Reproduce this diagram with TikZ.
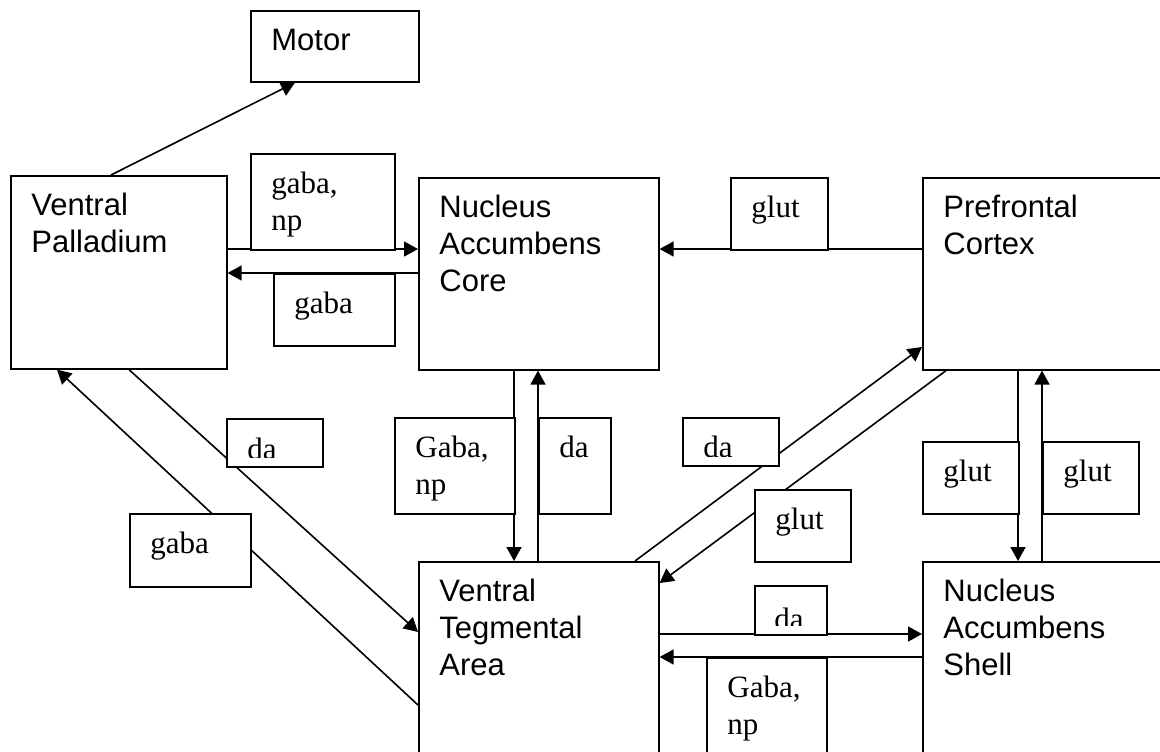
\documentclass[tikz,border=0pt]{standalone}
\usepackage{fontspec}
\setmainfont{Liberation Serif}
\newfontfamily\arial{Liberation Sans}
\usetikzlibrary{arrows.meta}

% lines of a label, baseline on the first line
\newcommand\stackedtext[1]{\begin{tabular}[t]{@{}l@{}}#1\end{tabular}}

\tikzset{
  area/.style={draw,fill=white,line width=0.8pt,inner sep=0pt,anchor=north west},
  tag/.style={draw,fill=white,line width=0.8pt,inner sep=0pt,anchor=north west},
  areatext/.style={anchor=base west,inner sep=0pt,
    font=\arial\fontsize{15.5}{18.5}\selectfont},
  tagtext/.style={anchor=base west,inner sep=0pt,
    font=\fontsize{15.5}{18.5}\selectfont},
  link/.style={line width=0.8pt},
  arr/.style={link,-{Triangle[length=7pt,width=7.5pt]}}
}

\begin{document}
\begin{tikzpicture}[x=0.5pt,y=-0.5pt]

            \clip (0,0) rectangle (1160,751);

            % Brain areas
            \foreach \nm/\x/\y/\w/\h/\txt in {
            motor/250/10/168/71/Motor,
            vp/10/175/216/193/{Ventral\\Palladium},
            core/418/177/240/192/{Nucleus\\Accumbens\\Core},
            pfc/922/177/250/192/{Prefrontal\\Cortex},
            vta/418/561/240/200/{Ventral\\Tegmental\\Area},
            shell/922/561/250/200/{Nucleus\\Accumbens\\Shell}} {
            \node [area,minimum width=\w*0.5pt,minimum height=\h*0.5pt] (\nm) at (\x,\y) {};
            \node [areatext] (\nm-txt) at ([shift={(21,40)}]\nm.north west) {\stackedtext{\txt}};
            }

            % Projections
            \draw[arr] (111,0 |- vp.north) -- (295,0 |- motor.south);
            \draw[arr] (vp.east |- 0,249) -- (core.west |- 0,249);
            \draw[arr] (core.west |- 0,273) -- (vp.east |- 0,273);
            \draw[arr] (pfc.west |- 0,249) -- (core.east |- 0,249);
            \draw[arr] (514,0 |- core.south) -- (514,0 |- vta.north);
            \draw[arr] (538,0 |- vta.north) -- (538,0 |- core.south);
            \draw[arr] (1018,0 |- pfc.south) -- (1018,0 |- shell.north);
            \draw[arr] (1042,0 |- shell.north) -- (1042,0 |- pfc.south);
            \draw[arr] (vta.east |- 0,634) -- (shell.west |- 0,634);
            \draw[arr] (shell.west |- 0,657) -- (vta.east |- 0,657);
            \draw[arr] (129,0 |- vp.south) -- (vta.west |- 0,632);
            \draw[arr] (vta.west |- 0,705) -- (57,0 |- vp.south);
            \draw[arr] (635,0 |- vta.north) -- (pfc.west |- 0,347);
            \draw[arr] (946,0 |- pfc.south) -- (vta.east |- 0,583);

            % Transmitter labels
            \foreach \nm/\x/\y/\w/\h/\txt in {
            gnp1/250/153/144/96/{gaba,\\np},
            gaba1/273/273/121/72/gaba,
            glut1/730/177/97/72/glut,
            gaba2/129/513/121/73/gaba,
            gnp2/394/417/120/96/{Gaba,\\np},
            da2/538/417/72/96/da,
            glut2/754/489/96/72/glut,
            glut3/922/441/96/72/glut,
            glut4/1042/441/96/72/glut,
            gnp3/706/657/120/110/{Gaba,\\np}} {
            \node [tag,minimum width=\w*0.5pt,minimum height=\h*0.5pt] (\nm) at (\x,\y) {};
            \node [tagtext] (\nm-txt) at ([shift={(21,40)}]\nm.north west) {\stackedtext{\txt}};
            }

            % the short "da" labels are cut off at the bottom
            \foreach \nm/\x/\y/\w/\h/\dx/\dy in {
            da1/226/418/96/48/21/41,
            da3/682/417/96/48/21/40,
            da4/754/585/72/49/20/44} {
            \node [tag,minimum width=\w*0.5pt,minimum height=\h*0.5pt] (\nm) at (\x,\y) {};
            \begin{scope}
            \clip (\nm.north west) rectangle ([yshift=5pt]\nm.south east);
            \node [tagtext] (\nm-txt) at ([shift={(\dx,\dy)}]\nm.north west) {da};
            \end{scope}
            }

\end{tikzpicture}
\end{document}
